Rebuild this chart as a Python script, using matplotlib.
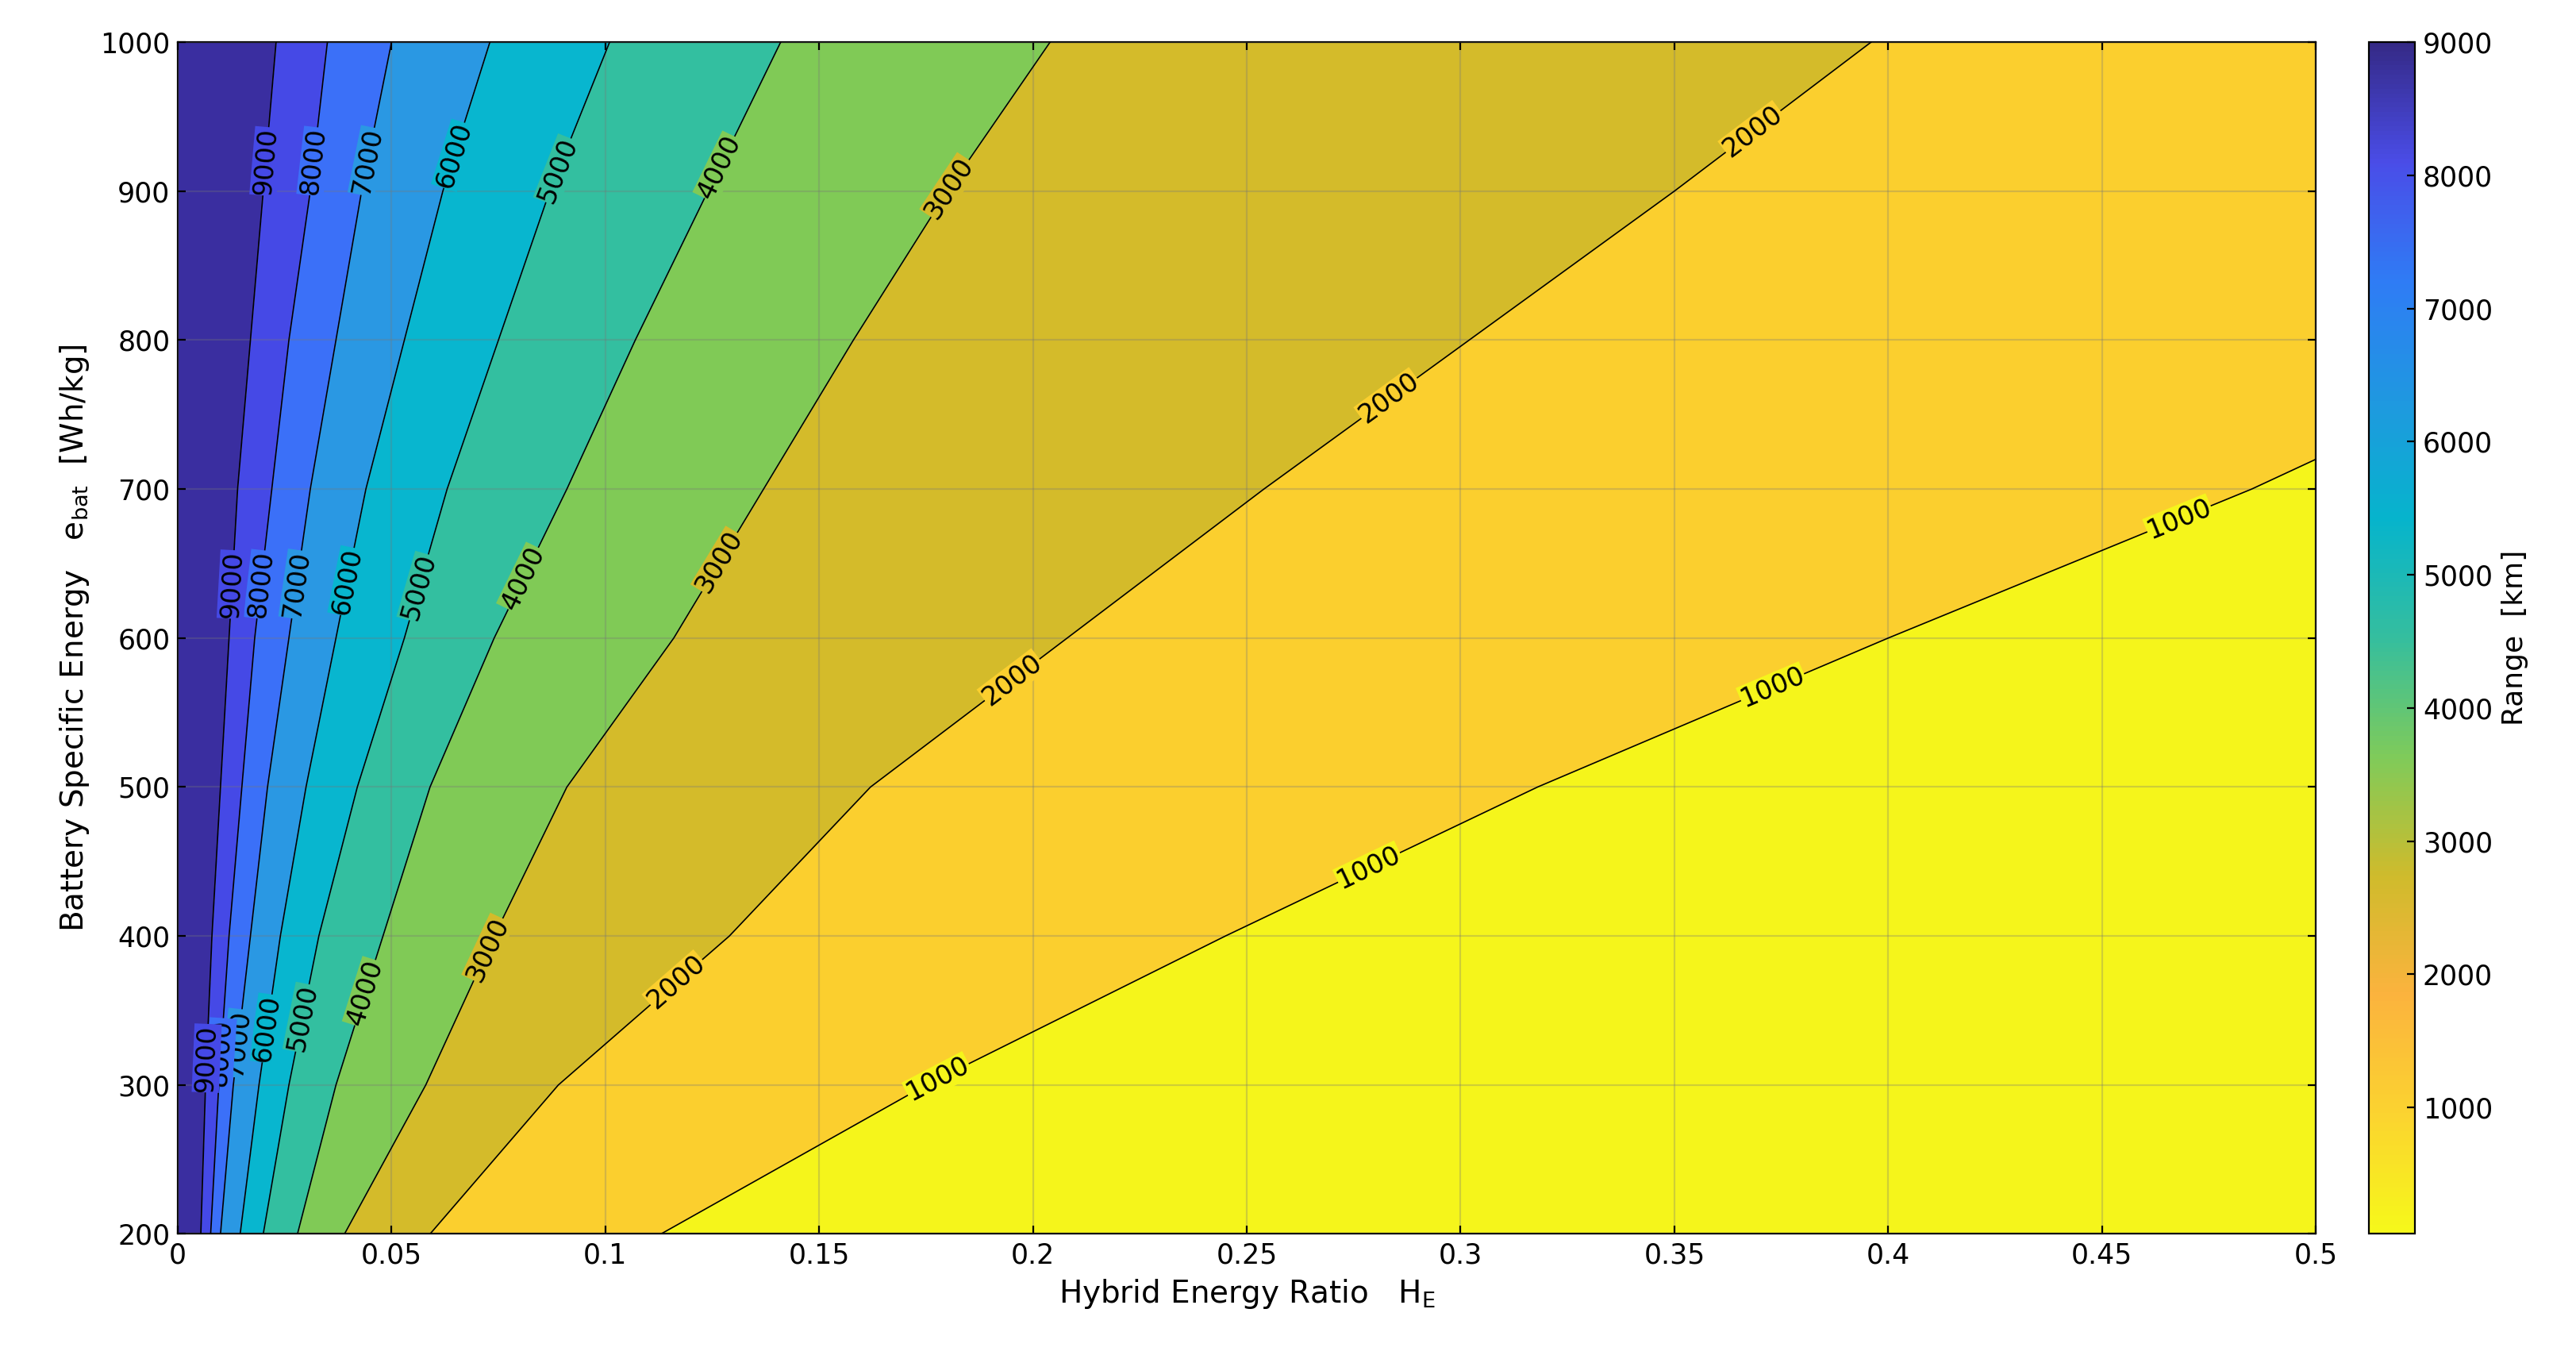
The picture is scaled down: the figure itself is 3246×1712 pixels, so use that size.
import numpy as np
import matplotlib
matplotlib.use('Agg')
import matplotlib.pyplot as plt
from matplotlib.colors import LinearSegmentedColormap, Normalize
from matplotlib.cm import ScalarMappable

# battery specific energy samples [Wh/kg]
e_bat = [200, 300, 400, 500, 600, 700, 800, 900, 1000]
levels = [1000, 2000, 3000, 4000, 5000, 6000, 7000, 8000, 9000]
# H_E position of each range contour at the e_bat samples
he_1000 = [0.113, 0.175, 0.245, 0.318, 0.400, 0.485, 0.560, 0.630, 0.710]
he_2000 = [0.059, 0.089, 0.129, 0.162, 0.208, 0.254, 0.302, 0.350, 0.396]
he_3000 = [0.039, 0.058, 0.074, 0.091, 0.116, 0.137, 0.158, 0.180, 0.204]
he_4000 = [0.028, 0.037, 0.048, 0.059, 0.074, 0.091, 0.107, 0.124, 0.141]
he_5000 = [0.020, 0.026, 0.033, 0.042, 0.053, 0.063, 0.075, 0.087, 0.101]
he_6000 = [0.0146, 0.019, 0.024, 0.030, 0.037, 0.044, 0.053, 0.062, 0.073]
he_7000 = [0.010, 0.013, 0.017, 0.021, 0.026, 0.031, 0.037, 0.043, 0.050]
he_8000 = [0.0077, 0.0096, 0.012, 0.015, 0.018, 0.022, 0.026, 0.031, 0.035]
he_9000 = [0.0054, 0.0065, 0.008, 0.010, 0.012, 0.014, 0.017, 0.020, 0.023]
curves = [he_1000, he_2000, he_3000, he_4000, he_5000, he_6000, he_7000, he_8000, he_9000]

# e_bat where the inline labels sit
label_y = [
    [304, 446, 567, 680],
    [369, 572, 761, 940],
    [391, 651, 902],
    [362, 640, 916],
    [345, 634, 914],
    [338, 638, 924],
    [328, 636, 920],
    [322, 636, 920],
    [318, 636, 920],
]

# fill colours, from <1000 up to >9000
fills = ['#f5f51b', '#fbcf2e', '#d4bb2a', '#80ca56', '#33bfa0', '#08b6cf',
         '#2a98e3', '#3b70f8', '#4549e6', '#3a2ea0']

parula = ['#352a87', '#4a4de8', '#2f7cf5', '#1f98e0', '#06b4cc', '#35be9e',
          '#7fcb5a', '#cfbb2c', '#fbb33e', '#fbd330', '#f6f81a']
cmap = LinearSegmentedColormap.from_list('parula_r', parula[::-1])

fig = plt.figure(figsize=(16.23, 8.56), dpi=200)
ax = fig.add_axes([0.069, 0.092, 0.830, 0.877])
ax.set_xlim(0, 0.5)
ax.set_ylim(200, 1000)

y = np.array(e_bat)
bounds = [np.full(len(y), 0.8)] + [np.array(c) for c in curves] + [np.zeros(len(y))]
for i in range(len(bounds) - 1):
    ax.fill_betweenx(y, bounds[i + 1], bounds[i], color=fills[i], lw=0, zorder=1)
for c in curves:
    ax.plot(c, y, color='k', lw=0.6, zorder=3)

ax.grid(True, color='#777777', alpha=0.3, lw=0.8, zorder=2)
ax.set_axisbelow(False)
fig.canvas.draw()
for i, (lev, c, ys) in enumerate(zip(levels, curves, label_y)):
    fc = fills[i]
    for yl in ys:
        xl = np.interp(yl, y, c)
        if xl > 0.5:
            continue
        p1 = ax.transData.transform((np.interp(yl - 20, y, c), yl - 20))
        p2 = ax.transData.transform((np.interp(yl + 20, y, c), yl + 20))
        ang = np.degrees(np.arctan2(p2[1] - p1[1], p2[0] - p1[0]))
        if ang > 90:
            ang -= 180
        ax.text(xl, yl, str(lev), rotation=ang, ha='center', va='center',
                fontsize=12, rotation_mode='anchor', zorder=4,
                bbox=dict(facecolor=fc, edgecolor='none', pad=0.3))

ax.set_xticks(np.arange(0, 0.51, 0.05))
ax.set_xticklabels(['0', '0.05', '0.1', '0.15', '0.2', '0.25', '0.3', '0.35', '0.4', '0.45', '0.5'])
ax.set_yticks(np.arange(200, 1001, 100))
ax.tick_params(labelsize=12.5, direction='in', top=True, right=True)
ax.set_xlabel(r'Hybrid Energy Ratio   H$_\mathregular{E}$', fontsize=14)
ax.set_ylabel(r'Battery Specific Energy   e$_\mathregular{bat}$  [Wh/kg]', fontsize=14)

cax = fig.add_axes([0.9196, 0.092, 0.0179, 0.877])
cb = fig.colorbar(ScalarMappable(norm=Normalize(50, 9000), cmap=cmap), cax=cax)
cb.set_ticks(levels)
cb.ax.tick_params(labelsize=12.5, direction='in')
cb.set_label('Range  [km]', fontsize=13)

fig.savefig('out.png')
